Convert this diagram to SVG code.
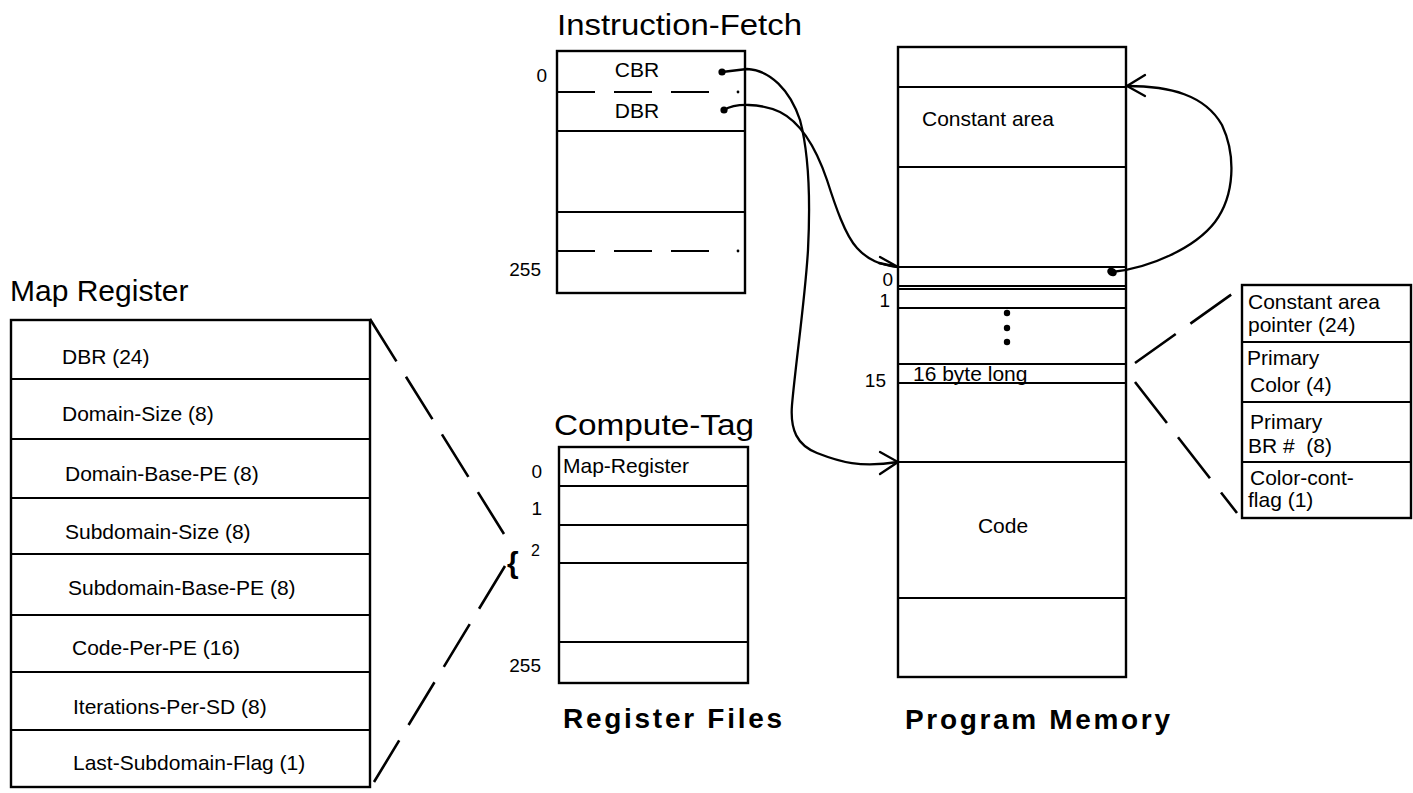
<svg xmlns="http://www.w3.org/2000/svg" width="1413" height="793" viewBox="0 0 1413 793">
<style>
text{font-family:"Liberation Sans",Arial,Helvetica,sans-serif;fill:#000}
.t{font-size:21px}
.s{font-size:19px}
.title{font-size:30px}
.big{font-size:28px;font-weight:bold}
.box{fill:#fff;stroke:#000;stroke-width:2.4}
.ln{stroke:#000;stroke-width:2.2;fill:none}
.dash{stroke:#000;stroke-width:2.2;fill:none;stroke-dasharray:38 19}
.zoom{stroke:#000;stroke-width:2.6;fill:none;stroke-dasharray:50 18}
.con{stroke:#000;stroke-width:2.3;fill:none}
.head{stroke:#000;stroke-width:2.3;fill:none;stroke-linecap:round}
</style>
<rect width="1413" height="793" fill="#fff"/>

<g id="map-register">
<text class="title" x="10" y="301">Map Register</text>
<rect class="box" x="11" y="320" width="359" height="467"/>
<line class="ln" x1="11" y1="379" x2="370" y2="379"/>
<line class="ln" x1="11" y1="439" x2="370" y2="439"/>
<line class="ln" x1="11" y1="498" x2="370" y2="498"/>
<line class="ln" x1="11" y1="554" x2="370" y2="554"/>
<line class="ln" x1="11" y1="615" x2="370" y2="615"/>
<line class="ln" x1="11" y1="672" x2="370" y2="672"/>
<line class="ln" x1="11" y1="730" x2="370" y2="730"/>
<text class="t" x="62" y="364">DBR (24)</text>
<text class="t" x="62" y="421">Domain-Size (8)</text>
<text class="t" x="65" y="481">Domain-Base-PE (8)</text>
<text class="t" x="65" y="539">Subdomain-Size (8)</text>
<text class="t" x="68" y="595">Subdomain-Base-PE (8)</text>
<text class="t" x="72" y="655">Code-Per-PE (16)</text>
<text class="t" x="73" y="714">Iterations-Per-SD (8)</text>
<text class="t" x="73" y="770">Last-Subdomain-Flag (1)</text>
</g>

<g id="instruction-fetch">
<text class="title" x="557" y="35" textLength="245" lengthAdjust="spacingAndGlyphs">Instruction-Fetch</text>
<rect class="box" x="557" y="51" width="188" height="242"/>
<line class="dash" x1="557" y1="92" x2="716" y2="92"/>
<circle cx="738" cy="92" r="1.4"/>
<line class="ln" x1="557" y1="131" x2="745" y2="131"/>
<line class="ln" x1="557" y1="212" x2="745" y2="212"/>
<line class="dash" x1="557" y1="251" x2="716" y2="251"/>
<circle cx="738" cy="251" r="1.4"/>
<text class="t" x="637" y="77" text-anchor="middle">CBR</text>
<text class="t" x="637" y="118" text-anchor="middle">DBR</text>
<text class="s" x="547" y="82" text-anchor="end">0</text>
<text class="s" x="541" y="276" text-anchor="end">255</text>
</g>

<g id="compute-tag">
<text class="title" x="554" y="435" textLength="200" lengthAdjust="spacingAndGlyphs">Compute-Tag</text>
<rect class="box" x="559" y="447" width="189" height="236"/>
<line class="ln" x1="559" y1="486" x2="748" y2="486"/>
<line class="ln" x1="559" y1="525" x2="748" y2="525"/>
<line class="ln" x1="559" y1="563" x2="748" y2="563"/>
<line class="ln" x1="559" y1="642" x2="748" y2="642"/>
<text class="t" x="563" y="473">Map-Register</text>
<text class="s" x="542" y="478" text-anchor="end">0</text>
<text class="s" x="542" y="515" text-anchor="end">1</text>
<text x="531" y="556" style="font-size:16px">2</text>
<text x="507" y="573" style="font-size:30px;font-weight:bold">{</text>
<text class="s" x="541" y="672" text-anchor="end">255</text>
<text class="big" x="563" y="728" textLength="219" lengthAdjust="spacing">Register Files</text>
</g>

<g id="program-memory">
<rect class="box" x="898" y="47" width="228" height="630"/>
<line class="ln" x1="898" y1="87" x2="1126" y2="87"/>
<line class="ln" x1="898" y1="167" x2="1126" y2="167"/>
<line class="ln" x1="898" y1="267" x2="1126" y2="267"/>
<line class="ln" x1="898" y1="286" x2="1126" y2="286"/>
<line class="ln" x1="898" y1="289" x2="1126" y2="289"/>
<line class="ln" x1="898" y1="308" x2="1126" y2="308"/>
<line class="ln" x1="898" y1="364" x2="1126" y2="364"/>
<line class="ln" x1="898" y1="383" x2="1126" y2="383"/>
<line class="ln" x1="898" y1="462" x2="1126" y2="462"/>
<line class="ln" x1="898" y1="598" x2="1126" y2="598"/>
<text class="t" x="922" y="126">Constant area</text>
<circle cx="1007" cy="313" r="3.2"/>
<circle cx="1007" cy="328" r="3.2"/>
<circle cx="1007" cy="342" r="3.2"/>
<text class="t" x="913" y="381">16 byte long</text>
<text class="t" x="1003" y="533" text-anchor="middle">Code</text>
<text class="s" x="893" y="286" text-anchor="end">0</text>
<text class="s" x="890" y="307" text-anchor="end">1</text>
<text class="s" x="886" y="387" text-anchor="end">15</text>
<text class="big" x="905" y="729" textLength="265" lengthAdjust="spacing">Program Memory</text>
</g>

<g id="descriptor">
<rect class="box" x="1242" y="285" width="169" height="233"/>
<line class="ln" x1="1242" y1="342" x2="1411" y2="342"/>
<line class="ln" x1="1242" y1="402" x2="1411" y2="402"/>
<line class="ln" x1="1242" y1="462" x2="1411" y2="462"/>
<text class="t" x="1248" y="309">Constant area</text>
<text class="t" x="1248" y="332">pointer (24)</text>
<text class="t" x="1247" y="365">Primary</text>
<text class="t" x="1250" y="392">Color (4)</text>
<text class="t" x="1250" y="429">Primary</text>
<text class="t" x="1248" y="453" xml:space="preserve">BR #  (8)</text>
<text class="t" x="1250" y="485">Color-cont-</text>
<text class="t" x="1248" y="507">flag (1)</text>
</g>

<g id="connectors">
<line class="zoom" x1="370" y1="319" x2="504" y2="534"/>
<line class="zoom" x1="505" y1="566" x2="374" y2="782"/>
<line class="zoom" x1="1135" y1="363" x2="1232" y2="294"/>
<line class="zoom" x1="1135" y1="382" x2="1237" y2="513" style="stroke-dasharray:52 18"/>
<circle cx="722" cy="72" r="3.6"/>
<path class="con" d="M722,72 L747,69 C770,70 790,90 800,120 C808,150 811,190 808,250 C805,300 796,360 792,405 C790,430 797,445 817,453 C840,462 860,468 898,462"/>
<path class="head" d="M880,452 L898,462 L880,474"/>
<circle cx="724" cy="110" r="3.6"/>
<path class="con" d="M724,110 C735,103 760,103 780,112 C800,122 815,145 827,180 C835,205 845,235 857,248 C868,260 880,265 898,267"/>
<path class="head" d="M880,257 L898,267 L879,263"/>
<ellipse cx="1112" cy="272" rx="5" ry="4" transform="rotate(30 1112 272)"/>
<path class="con" d="M1112,272 C1150,268 1195,248 1215,222 C1235,195 1236,155 1222,125 C1205,95 1170,86 1127,86"/>
<path class="head" d="M1145,75 L1127,86 L1145,96"/>
</g>
</svg>
